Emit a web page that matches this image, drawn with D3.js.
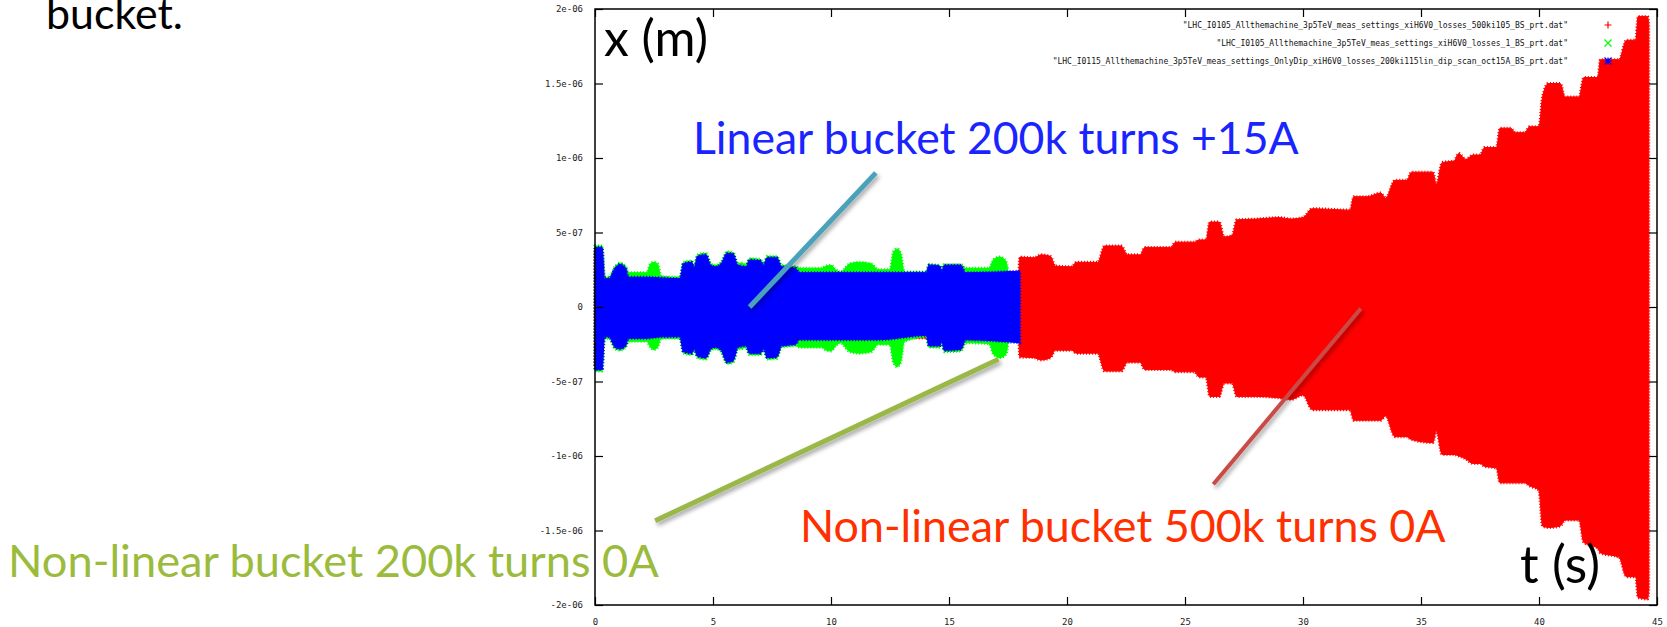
<!DOCTYPE html>
<html>
<head>
<meta charset="utf-8">
<script src="https://cdn.jsdelivr.net/npm/d3@7"></script>
<style>
  body { margin: 0; background: #fff; }
  svg { display: block; }
</style>
</head>
<body>
<div id="chart"></div>
<script>
// envelope values are in units of 1e-7 m
const UNIT = 1e-7

// series 1 : non-linear bucket 500k turns 0A (red)
const redT  = [0, 0.35, 17.95, 18.0, 18.6, 18.9, 19.3, 19.5, 20.2, 20.4, 21.3, 21.6, 22.3, 22.55, 23.1, 23.3, 24.4, 24.6, 25.4, 25.6, 25.9, 26.05, 26.45, 26.65, 27.0, 27.2, 28.0, 29.0, 29.5, 30.0, 30.4, 32.0, 32.15, 32.7, 33.3, 33.5, 33.9, 34.4, 34.6, 35.5, 35.65, 35.9, 36.4, 36.6, 36.9, 37.2, 37.5, 37.7, 38.2, 38.35, 38.8, 39.0, 39.4, 39.6, 40.0, 40.15, 40.4, 40.9, 41.1, 41.7, 41.9, 42.5, 42.6, 43.4, 43.7, 44.1, 44.2, 44.6, 44.65]
const redHi = [3.8, 1.8, 2.2, 3.35, 3.3, 3.5, 3.4, 2.75, 2.7, 3.0, 3.0, 4.1, 4.1, 3.5, 3.5, 4.0, 4.0, 4.35, 4.35, 4.5, 4.5, 5.7, 5.7, 4.7, 4.8, 5.85, 5.9, 6.0, 5.9, 6.0, 6.6, 6.5, 7.4, 7.4, 7.65, 7.3, 8.5, 8.5, 9.05, 9.05, 8.2, 9.7, 9.8, 10.3, 9.9, 10.2, 10.2, 10.7, 10.7, 12.0, 12.0, 11.7, 11.7, 12.1, 12.1, 14.1, 15.0, 15.0, 14.1, 14.1, 15.4, 15.4, 16.6, 16.6, 17.9, 17.9, 19.5, 19.5, 19.0]
const redLo = [-4.0, -1.9, -2.2, -3.35, -3.4, -3.55, -3.4, -2.9, -2.9, -3.1, -3.1, -4.3, -4.3, -3.7, -3.7, -4.2, -4.2, -4.35, -4.35, -4.7, -4.7, -6.0, -6.0, -5.1, -5.1, -6.0, -6.0, -6.1, -6.2, -5.9, -6.9, -6.9, -7.6, -7.6, -7.6, -7.3, -8.7, -8.7, -8.9, -9.1, -8.3, -9.9, -9.9, -10.0, -10.2, -10.5, -10.5, -10.7, -10.8, -11.8, -11.8, -11.8, -11.8, -12.0, -12.3, -14.7, -14.8, -14.7, -14.3, -14.3, -15.8, -16.2, -16.5, -16.8, -18.1, -18.1, -19.5, -19.6, -19.0]

// series 2 : non-linear bucket 200k turns 0A (green)
const greenT  = [0, 0.3, 0.4, 0.6, 0.85, 1.05, 1.3, 1.4, 2.2, 2.35, 2.5, 2.65, 2.8, 3.6, 3.75, 4.1, 4.2, 4.35, 4.7, 4.9, 5.1, 5.35, 5.6, 5.85, 6.05, 6.2, 6.4, 6.55, 7.0, 7.15, 7.3, 7.7, 7.9, 8.5, 8.7, 9.6, 9.8, 10.0, 10.2, 10.4, 10.8, 11.2, 11.7, 12.0, 12.5, 12.65, 12.8, 12.95, 13.1, 14.05, 14.15, 14.6, 14.7, 14.8, 15.5, 15.7, 16.7, 16.9, 17.15, 17.4, 17.5]
const greenHi = [4.1, 4.1, 2.0, 2.0, 2.7, 2.95, 2.7, 2.3, 2.3, 2.9, 3.0, 2.9, 2.05, 2.0, 3.0, 3.1, 2.7, 3.5, 3.6, 2.9, 2.8, 3.0, 3.7, 3.65, 2.9, 2.95, 2.85, 3.25, 3.2, 2.9, 3.4, 3.4, 2.8, 2.7, 2.6, 2.6, 2.75, 2.8, 2.5, 2.35, 2.9, 3.0, 2.9, 2.5, 2.5, 3.7, 3.9, 3.6, 2.35, 2.35, 2.85, 2.8, 2.5, 2.85, 2.85, 2.6, 2.6, 3.2, 3.35, 3.1, 2.4]
const greenLo = [-4.3, -4.3, -2.1, -2.1, -2.8, -2.9, -2.7, -2.3, -2.3, -2.7, -2.85, -2.7, -2.1, -2.1, -3.1, -3.2, -2.9, -3.4, -3.5, -2.9, -2.8, -3.0, -3.8, -3.7, -2.8, -2.8, -2.7, -3.2, -3.2, -2.9, -3.5, -3.45, -2.7, -2.6, -2.7, -2.7, -2.9, -2.95, -2.6, -2.4, -3.0, -3.1, -3.0, -2.5, -2.5, -3.7, -4.0, -3.7, -2.3, -2.0, -2.7, -2.7, -2.4, -3.0, -2.95, -2.4, -2.45, -3.2, -3.4, -3.2, -2.4]

// series 3 : linear bucket 200k turns +15A (blue)
const blueT  = [0, 0.3, 0.4, 0.6, 0.85, 1.05, 1.3, 1.4, 2.2, 2.8, 3.6, 3.75, 4.1, 4.2, 4.35, 4.7, 4.9, 5.1, 5.35, 5.6, 5.85, 6.05, 6.4, 6.55, 7.0, 7.15, 7.3, 7.7, 7.9, 8.5, 8.65, 10, 12, 14.05, 14.15, 14.6, 14.7, 14.8, 15.5, 15.7, 18.0]
const blueHi = [4.0, 4.0, 1.9, 1.9, 2.6, 2.85, 2.6, 2.0, 2.0, 1.95, 1.9, 2.9, 3.0, 2.6, 3.4, 3.5, 2.8, 2.7, 2.9, 3.6, 3.55, 2.8, 2.7, 3.15, 3.1, 2.8, 3.3, 3.3, 2.7, 2.6, 2.3, 2.3, 2.3, 2.3, 2.8, 2.75, 2.4, 2.8, 2.8, 2.3, 2.4]
const blueLo = [-4.2, -4.2, -2.0, -2.0, -2.7, -2.8, -2.6, -2.1, -2.1, -2.0, -2.0, -3.0, -3.1, -2.8, -3.3, -3.4, -2.8, -2.7, -2.9, -3.7, -3.6, -2.7, -2.6, -3.1, -3.1, -2.8, -3.4, -3.35, -2.6, -2.5, -2.2, -2.2, -2.2, -1.9, -2.6, -2.6, -2.3, -2.9, -2.85, -2.2, -2.4]

const legendLabels = [
  '"LHC_I0105_Allthemachine_3p5TeV_meas_settings_xiH6V0_losses_500ki105_BS_prt.dat"',
  '"LHC_I0105_Allthemachine_3p5TeV_meas_settings_xiH6V0_losses_1_BS_prt.dat"',
  '"LHC_I0115_Allthemachine_3p5TeV_meas_settings_OnlyDip_xiH6V0_losses_200ki115lin_dip_scan_oct15A_BS_prt.dat"'
]
const seriesColors = ['#ff0000', '#00ff00', '#0000ff']

const xTicks = [0, 5, 10, 15, 20, 25, 30, 35, 40, 45]
const yTicks = [-2e-6, -1.5e-6, -1e-6, -5e-7, 0, 5e-7, 1e-6, 1.5e-6, 2e-6]
const yTickLabels = ['-2e-06', '-1.5e-06', '-1e-06', '-5e-07', '0', '5e-07', '1e-06', '1.5e-06', '2e-06']

// annotation pointers, in data coordinates [t, x]
const pointers = [
  {from: [11.9, 9.0e-7], to: [6.55, 0], color: '#4aa2b9', width: 5},
  {from: [2.55, -1.435e-6], to: [17.1, -3.5e-7], color: '#9ab847', width: 5},
  {from: [32.45, -1e-8], to: [26.2, -1.19e-6], color: '#c94b46', width: 4}
]

const svg_width = 1667
const svg_height = 627
const plot_left = 595, plot_right = 1657, plot_top = 9, plot_bottom = 605

const xScale = d3.scaleLinear().domain([0, 45]).range([plot_left, plot_right])
const yScale = d3.scaleLinear().domain([-2e-6, 2e-6]).range([plot_bottom, plot_top])

const svg = d3.select('#chart')
  .append('svg')
  .attr('width', svg_width)
  .attr('height', svg_height)
  .attr('viewBox', `0 0 ${svg_width} ${svg_height}`)

const defs = svg.append('defs')
defs.append('filter')
    .attr('id', 'shadow')
    .attr('x', '-20%').attr('y', '-20%').attr('width', '140%').attr('height', '140%')
  .append('feDropShadow')
    .attr('dx', 2).attr('dy', 3).attr('stdDeviation', 2)
    .attr('flood-color', '#000').attr('flood-opacity', 0.35)

// build envelope tables
const toRows = (T, hi, lo) => T.map((t, i) => ({t: t, hi: hi[i] * UNIT, lo: lo[i] * UNIT}))
const series = [
  toRows(redT, redHi, redLo),
  toRows(greenT, greenHi, greenLo),
  toRows(blueT, blueHi, blueLo)
]

const area = d3.area()
  .x(d => xScale(d.t))
  .y0(d => yScale(d.lo))
  .y1(d => yScale(d.hi))
  .curve(d3.curveMonotoneX)

// filled envelope plus a dotted rim, mimicking the '+' point markers at the edge
const bands = svg.append('g')
series.forEach((rows, i) => {
  bands.append('path')
    .attr('d', area(rows))
    .attr('fill', seriesColors[i])
    .attr('stroke', seriesColors[i])
    .attr('stroke-width', 1)
  bands.append('path')
    .attr('d', area(rows))
    .attr('fill', 'none')
    .attr('stroke', seriesColors[i])
    .attr('stroke-width', 3)
    .attr('stroke-dasharray', '1,2')
})

// axes, gnuplot style: ticks pointing inward on all four sides
const tickFont = (g) => g.selectAll('text')
  .attr('font-family', '"DejaVu Sans Mono", monospace')
  .attr('font-size', '9px')
  .attr('fill', '#222')

const styleAxis = (g) => {
  g.select('.domain').remove()
  g.selectAll('line').attr('stroke', '#000').attr('stroke-width', 1.2)
}

svg.append('g')
  .attr('transform', `translate(${plot_left},0)`)
  .call(d3.axisLeft(yScale).tickValues(yTicks).tickSize(-8).tickPadding(12)
    .tickFormat((d, i) => yTickLabels[i]))
  .call(styleAxis).call(tickFont)

svg.append('g')
  .attr('transform', `translate(${plot_right},0)`)
  .call(d3.axisRight(yScale).tickValues(yTicks).tickSize(-8).tickFormat(''))
  .call(styleAxis)

svg.append('g')
  .attr('transform', `translate(0,${plot_bottom})`)
  .call(d3.axisBottom(xScale).tickValues(xTicks).tickSize(-8).tickPadding(14)
    .tickFormat(d3.format('d')))
  .call(styleAxis).call(tickFont)

svg.append('g')
  .attr('transform', `translate(0,${plot_top})`)
  .call(d3.axisTop(xScale).tickValues(xTicks).tickSize(-8).tickFormat(''))
  .call(styleAxis)

svg.append('rect')
  .attr('x', plot_left).attr('y', plot_top)
  .attr('width', plot_right - plot_left).attr('height', plot_bottom - plot_top)
  .attr('fill', 'none').attr('stroke', '#000').attr('stroke-width', 1.5)

// legend
const legend = svg.append('g')
legendLabels.forEach((lab, i) => {
  const ly = 25 + i * 18
  legend.append('text')
    .attr('x', 1568).attr('y', ly)
    .attr('dy', '0.35em')
    .attr('text-anchor', 'end')
    .attr('font-family', '"DejaVu Sans Mono", monospace')
    .attr('font-size', '8px')
    .attr('fill', '#111')
    .text(lab)
  const s = 3.5, mx = 1608
  let p = ''
  if (i !== 1) p += `M${mx - s},${ly}H${mx + s}M${mx},${ly - s}V${ly + s}`
  if (i !== 0) p += `M${mx - s},${ly - s}L${mx + s},${ly + s}M${mx - s},${ly + s}L${mx + s},${ly - s}`
  legend.append('path')
    .attr('d', p)
    .attr('stroke', seriesColors[i])
    .attr('stroke-width', 1.2)
    .attr('fill', 'none')
})

// annotation pointers
svg.append('g')
  .selectAll('line')
  .data(pointers)
  .join('line')
    .attr('x1', d => xScale(d.from[0])).attr('y1', d => yScale(d.from[1]))
    .attr('x2', d => xScale(d.to[0])).attr('y2', d => yScale(d.to[1]))
    .attr('stroke', d => d.color)
    .attr('stroke-width', d => d.width)
    .attr('filter', 'url(#shadow)')

// slide text overlays
const notes = [
  {text: 'bucket.', x: 46, y: 29, w: 137, color: '#000'},
  {text: 'x (m)', x: 604, y: 56, w: 104, color: '#000'},
  {text: 'Linear bucket 200k turns +15A', x: 693, y: 154, w: 606, color: '#1a24ff'},
  {text: 'Non-linear bucket 500k turns 0A', x: 800, y: 542, w: 646, color: '#ff3000'},
  {text: 'Non-linear bucket 200k turns 0A', x: 8, y: 577, w: 651, color: '#9bbb3d'},
  {text: 't (s)', x: 1520, y: 583, w: 80, color: '#000'}
]

notes.forEach(n => {
  const t = svg.append('text')
    .attr('x', n.x).attr('y', n.y)
    .attr('font-family', 'Lato, "Open Sans", sans-serif')
    .attr('font-size', 40)
    .attr('fill', n.color)
    .text(n.text)
  const w = t.node().getComputedTextLength()
  t.attr('font-size', 40 * n.w / w)
})
</script>
</body>
</html>
